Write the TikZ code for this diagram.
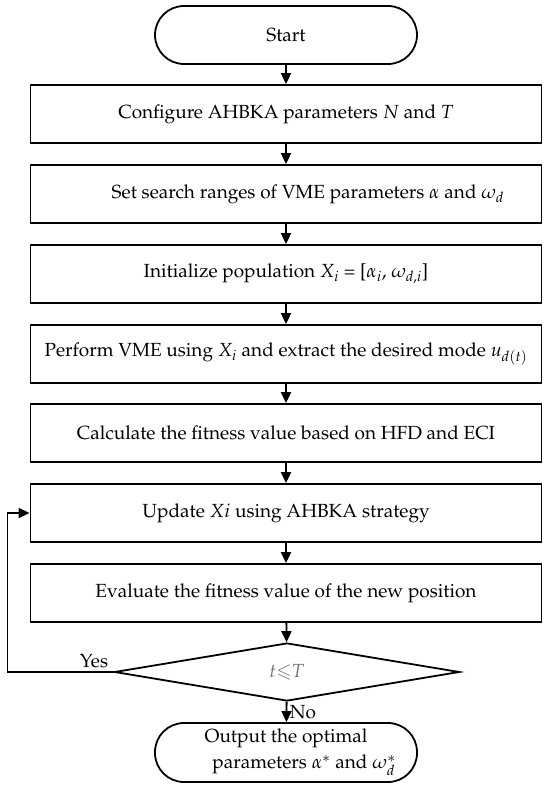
\documentclass[tikz,border=0pt]{standalone}
\usepackage[T1]{fontenc}
\usepackage{mathpazo}
\usepackage{amssymb}
\usetikzlibrary{arrows.meta,shapes.geometric}

\begin{document}
\begin{tikzpicture}[x=1pt,y=-1pt,line width=1.8pt,
        font=\fontsize{19}{25}\selectfont,
        proc box/.style={draw, rectangle, minimum width=511pt, minimum height=58pt, inner sep=0pt},
        term box/.style={draw, rectangle, rounded corners=29pt, minimum width=262pt, minimum height=58pt, inner sep=0pt, align=center},
        test box/.style={draw, diamond, minimum width=345pt, minimum height=58pt, inner sep=0pt},
        flow arrow/.style={-{Triangle[length=11pt,width=10pt]}}]
        \useasboundingbox (0,0) rectangle (550,789);

        \node[term box] (start) at (286,35)  {Start};
        \node[proc box] (conf)  at (286,114) {Configure AHBKA parameters $N$ and $T$};
        \node[proc box] (range) at (286,194) {\hspace*{2.3em}Set search ranges of VME parameters $\alpha$ and $\omega_d$};
        \node[proc box] (init)  at (286,274) {Initialize population $X_i$ = [$\alpha_i$, $\omega_{d,i}$]};
        \node[proc box] (vme)   at (286,354) {Perform VME using $X_i$ and extract the desired mode $u_{d(t)}$};
        \node[proc box] (fit)   at (286,433) {Calculate the fitness value based on HFD and ECI};
        \node[proc box] (upd)   at (286,513) {Update $Xi$ using AHBKA strategy};
        \node[proc box] (eval)  at (286,593) {Evaluate the fitness value of the new position};
        \node[test box] (test)  at (287,672) {\color{black!55}$t{\leqslant}T$};
        \node[term box, minimum height=59pt] (out) at (286,752.5)
          {Output the optimal\\[1pt]\hspace*{1.9em}parameters $\alpha^*$ and $\omega_d^*$};

        \foreach \a/\b in {start/conf,conf/range,range/init,init/vme,vme/fit,fit/upd,upd/eval,eval/test,test/out}
          \draw[flow arrow] (\a) -- (\b);

        \coordinate (loop) at (7.5,672);
        \draw[flow arrow] (test.west) -- (loop) |- (upd.west);

        \node (yes) at (94,661) {Yes};
        \node (no)  at (303,712) {No};
      \end{tikzpicture}
\end{document}
